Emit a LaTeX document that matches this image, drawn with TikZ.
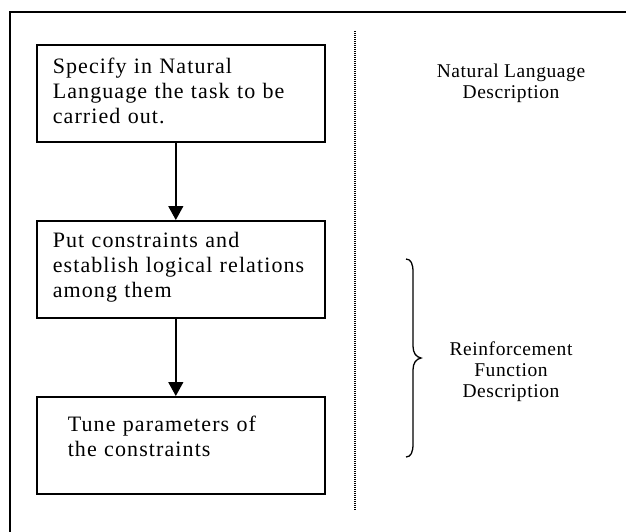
\documentclass[tikz,border=0pt]{standalone}
\usepackage{fontspec}
\setmainfont{Liberation Serif}
\newfontfamily\boxfont[LetterSpace=5]{Liberation Serif}
\newfontfamily\sidefont[LetterSpace=3]{Liberation Serif}
\usetikzlibrary{arrows.meta}
\begin{document}
\begin{tikzpicture}[x=1pt,y=-1pt,
  stepbox/.style={draw,line width=1.6pt,minimum width=288pt,minimum height=97pt,
    text width=256pt,inner xsep=16pt,inner ysep=0pt,align=left,
    font=\boxfont\fontsize{22}{25}\selectfont,anchor=north west},
  flow/.style={line width=1.4pt,-{Triangle[width=15pt,length=14pt]}},
  side/.style={align=center,inner sep=0pt,anchor=north,font=\sidefont\fontsize{19.5}{21}\selectfont},
  frame/.style={line width=1.4pt},
  sep/.style={line width=1.2pt,dash pattern=on 0.8pt off 1.2pt},
  bracepath/.style={line width=1.3pt}]
\useasboundingbox (0,0) rectangle (626,531);
\clip (0,0) rectangle (626,531);
% outer frame (right and bottom edges lie outside the picture)
\coordinate (fbl) at (10,560);
\coordinate (ftl) at (10,12);
\coordinate (ftr) at (660,12);
\draw[frame] (fbl) -- (ftl) -- (ftr);
% steps
\node[stepbox] (b1) at (36,44) {Specify in Natural\\Language the task to be\\carried out.\rule[-5pt]{0pt}{0pt}};
\node[stepbox] (b2) at (36,220) {Put constraints and\\\mbox{establish logical relations}\\among them\rule[-8pt]{0pt}{0pt}};
\node[stepbox,inner xsep=31pt,text width=226pt] (b3) at (36,396) {Tune parameters of\\the constraints\rule[-19pt]{0pt}{0pt}};
\draw[flow] ([xshift=-5pt]b1.south) -- ([xshift=-5pt]b2.north);
\draw[flow] ([xshift=-5pt]b2.south) -- ([xshift=-5pt]b3.north);
% dotted separator
\coordinate (dtop) at (355,31);
\coordinate (dbot) at (355,510);
\draw[sep] (dtop) -- (dbot);
% side labels
\node[side] (nl) at (511,63.5) {Natural Language\\Description};
\node[side] (rf) at (511,342) {Reinforcement\\Function\\Description};
% brace
\draw[bracepath] (406,259) .. controls (411,259) and (413,264) .. (413,272)
  -- (413,346) .. controls (413,353) and (416,357) .. (421,358)
  .. controls (416,359) and (413,363) .. (413,370)
  -- (413,444) .. controls (413,452) and (411,457) .. (406,457);
\end{tikzpicture}
\end{document}
